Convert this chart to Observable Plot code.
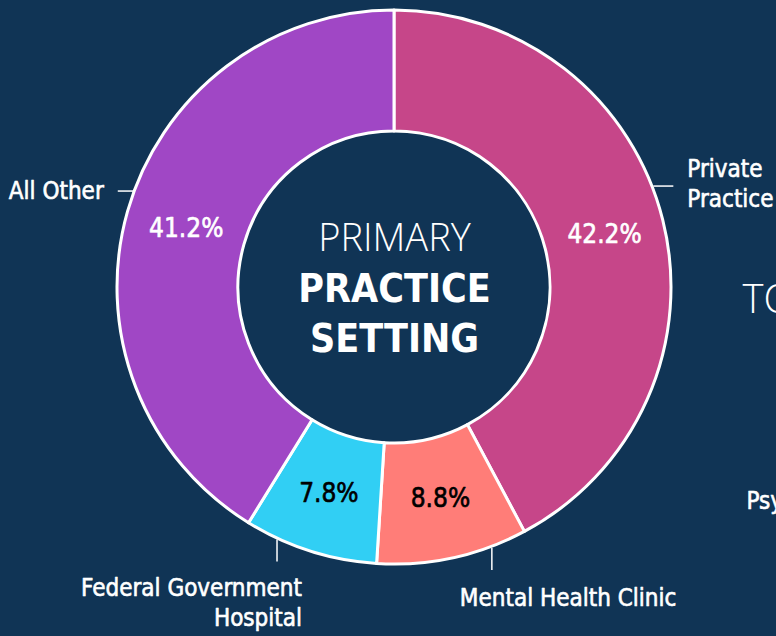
<!DOCTYPE html>
<html><head><meta charset="utf-8">
<script src="https://cdn.jsdelivr.net/npm/d3@7"></script>
<script src="https://cdn.jsdelivr.net/npm/@observablehq/plot@0.6"></script>
<style>
html,body{margin:0;padding:0;background:#103455;}
#chart{width:776px;height:636px;overflow:hidden;}
</style></head><body><div id="chart"></div>
<script>
// ---- data ----
const categories = ["Private Practice", "Mental Health Clinic", "Federal Government Hospital", "All Other"];
const shares = [42.2, 8.8, 7.8, 41.2];
const sliceColors = ["#c64689", "#ff7d78", "#31cff4", "#a047c5"];
const labelLines = [["Private", "Practice"], ["Mental Health Clinic"], ["Federal Government", "Hospital"], ["All Other"]];
const centerTitle = ["PRIMARY", "PRACTICE", "SETTING"];
const neighbourText = ["TO", "Psy"]; // cut-off text of the neighbouring chart

// ---- layout (pixels relative to donut centre, y up) ----
const W = 776, H = 636, CX = 394, CY = 287;
const ROUT = 277, RIN = 156;
const condensed = "'DejaVu Sans Condensed', 'Liberation Sans Narrow', sans-serif";
const light = "'Open Sans', Roboto, sans-serif";

const table = categories.map((c, i) => ({category: c, share: shares[i], lines: labelLines[i]}));
const arcs = d3.pie().sort(null).value(d => d.share)(table);
const color = Plot.scale({color: {type: "ordinal", domain: categories, range: sliceColors}});
const polar = (r, a) => [r * Math.sin(a), r * Math.cos(a)];

// percent labels at arc centroids
const pctRows = arcs.map(a => {
  const [x, y] = polar((ROUT + RIN) / 2, (a.startAngle + a.endAngle) / 2);
  const fill = color.apply(a.data.category);
  return {x, y, text: d3.format(".1f")(a.data.share) + "%", ink: d3.lab(fill).l > 60 ? "black" : "white"};
});

// leader anchors (degrees clockwise from top) and label placement
const deg = Math.PI / 180;
const leaderLayout = {
  "Private Practice": {angle: 68.6, dx: 20, dy: 0, tx: 14, ty: [9, -21], anchor: "start"},
  "Mental Health Clinic": {angle: 159.5, dx: 0, dy: -22, tx: -32, ty: [-36], anchor: "start"},
  "Federal Government Hospital": {angle: 205, dx: 0, dy: -22, tx: 25, ty: [-35, -65], anchor: "end"},
  "All Other": {angle: 290.3, dx: -16, dy: 0, tx: -14, ty: [-8], anchor: "end"}
};
const leaders = [], outerLabels = [];
table.forEach(d => {
  const L = leaderLayout[d.category];
  const [x1, y1] = polar(ROUT + 1, L.angle * deg);
  const x2 = x1 + L.dx, y2 = y1 + L.dy;
  leaders.push({x1, y1, x2, y2});
  d.lines.forEach((t, j) => outerLabels.push({x: x2 + L.tx, y: y2 + L.ty[j], text: t, anchor: L.anchor}));
});

function donut(index, scales) {
  const cx = scales.x(0), cy = scales.y(0);
  const k = scales.x(1) - scales.x(0);
  const g = d3.create("svg:g").attr("transform", `translate(${cx},${cy})`);
  const arc = d3.arc().innerRadius(RIN * k).outerRadius(ROUT * k);
  g.selectAll("path").data(arcs).join("path")
    .attr("d", arc)
    .attr("fill", d => color.apply(d.data.category))
    .attr("stroke", "white").attr("stroke-width", 3).attr("stroke-linejoin", "round");
  return g.node();
}

const labelStyle = {fill: "white", stroke: "white", strokeWidth: 0.6, fontSize: 24, fontFamily: condensed, lineAnchor: "bottom"};

const chart = Plot.plot({
  width: W, height: H,
  margin: 0,
  style: {background: "transparent", overflow: "hidden"},
  x: {domain: [-CX, W - CX], range: [0, W], axis: null},
  y: {domain: [-(H - CY), CY], range: [H, 0], axis: null},
  marks: [
    donut,
    Plot.text(pctRows, {x: "x", y: "y", text: "text", fill: "ink", stroke: "ink", strokeWidth: 0.6, fontSize: 26, fontFamily: condensed}),
    Plot.link(leaders, {x1: "x1", y1: "y1", x2: "x2", y2: "y2", stroke: "white", strokeWidth: 1.5}),
    Plot.text(outerLabels.filter(d => d.anchor === "start"), {x: "x", y: "y", text: "text", textAnchor: "start", ...labelStyle}),
    Plot.text(outerLabels.filter(d => d.anchor === "end"), {x: "x", y: "y", text: "text", textAnchor: "end", ...labelStyle}),
    Plot.text([centerTitle[0]], {x: 0, y: 37, text: d => d, lineAnchor: "bottom", fill: "white", fontSize: 38, fontWeight: 300, fontFamily: light}),
    Plot.text(centerTitle.slice(1), {x: 0, y: (d, i) => -14 - 50 * i, text: d => d, lineAnchor: "bottom", fill: "white", fontSize: 39, fontWeight: "bold", fontFamily: condensed}),
    Plot.text([neighbourText[0]], {x: 348, y: -25, text: d => d, textAnchor: "start", lineAnchor: "bottom", fill: "white", fontSize: 40, fontWeight: 300, fontFamily: light}),
    Plot.text([neighbourText[1]], {x: 352, y: -221, text: d => d, textAnchor: "start", ...labelStyle})
  ]
});
document.getElementById("chart").append(chart);
</script></body></html>
